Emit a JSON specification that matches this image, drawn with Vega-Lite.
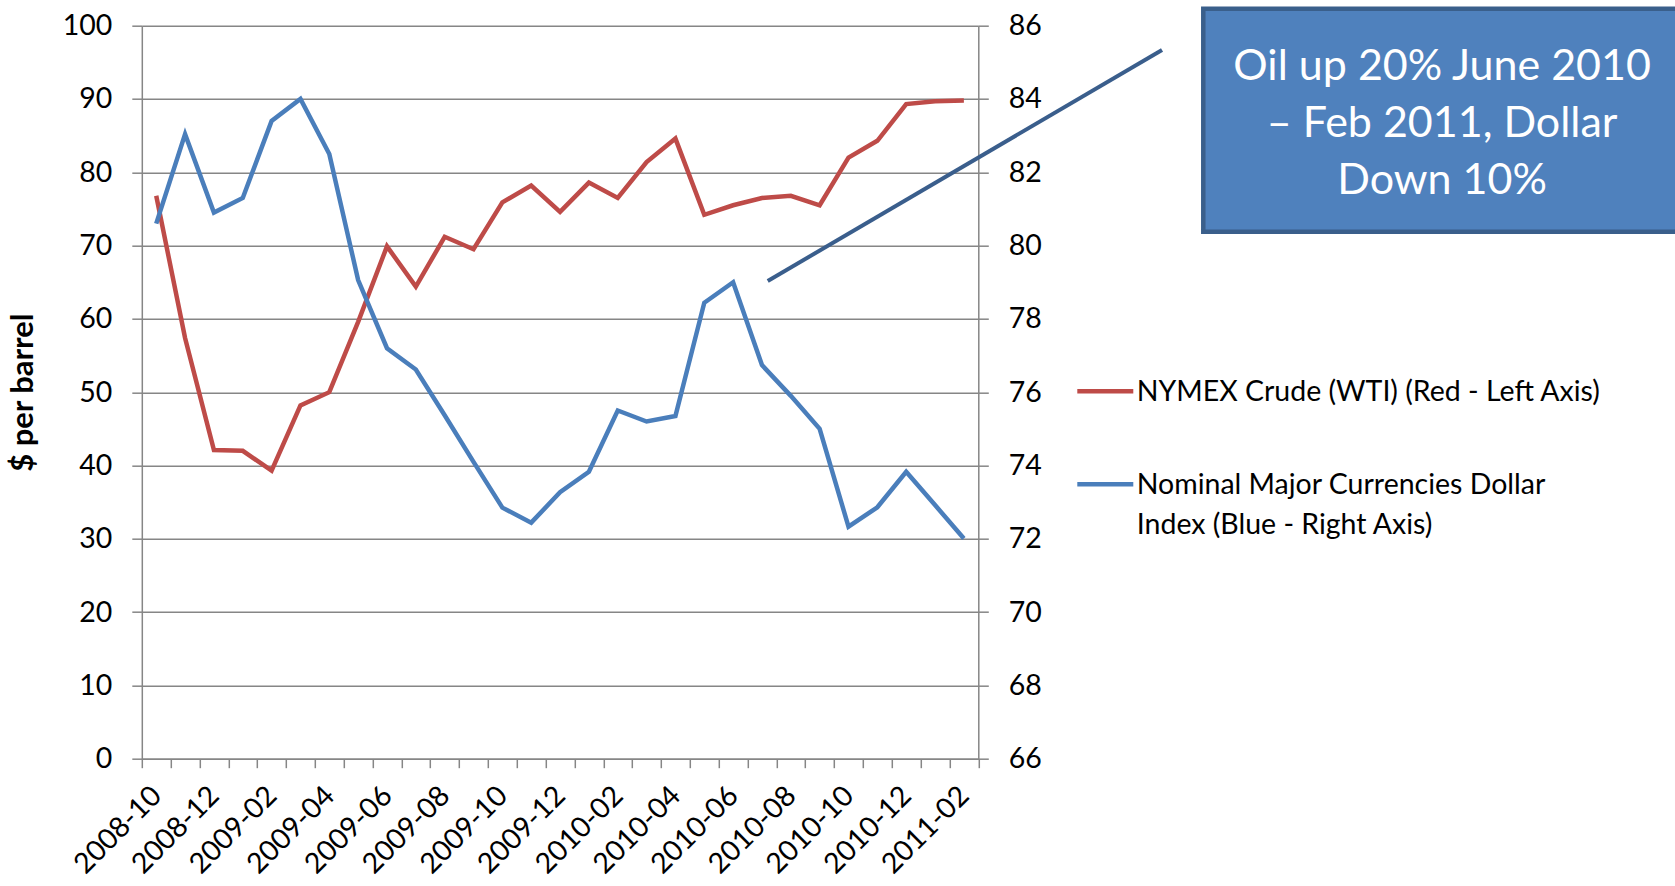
{
  "$schema": "https://vega.github.io/schema/vega-lite/v6.json",
  "autosize": {"type": "none"},
  "width": 836.5,
  "height": 733,
  "padding": {"left": 141.8, "top": 25.7, "right": 697, "bottom": 127},
  "background": "white",
  "datasets": {
    "prices": [
      {"month": "2008-10", "oil": 76.8, "dollar": 80.6},
      {"month": "2008-11", "oil": 57.4, "dollar": 83.04},
      {"month": "2008-12", "oil": 42.1, "dollar": 80.9},
      {"month": "2009-01", "oil": 42.0, "dollar": 81.3},
      {"month": "2009-02", "oil": 39.3, "dollar": 83.4},
      {"month": "2009-03", "oil": 48.2, "dollar": 84.0},
      {"month": "2009-04", "oil": 50.0, "dollar": 82.5},
      {"month": "2009-05", "oil": 59.6, "dollar": 79.06},
      {"month": "2009-06", "oil": 69.9, "dollar": 77.2},
      {"month": "2009-07", "oil": 64.4, "dollar": 76.62},
      {"month": "2009-08", "oil": 71.2, "dollar": 75.37},
      {"month": "2009-09", "oil": 69.5, "dollar": 74.1},
      {"month": "2009-10", "oil": 75.9, "dollar": 72.85},
      {"month": "2009-11", "oil": 78.2, "dollar": 72.44},
      {"month": "2009-12", "oil": 74.6, "dollar": 73.27},
      {"month": "2010-01", "oil": 78.6, "dollar": 73.83},
      {"month": "2010-02", "oil": 76.5, "dollar": 75.5},
      {"month": "2010-03", "oil": 81.4, "dollar": 75.2},
      {"month": "2010-04", "oil": 84.6, "dollar": 75.35},
      {"month": "2010-05", "oil": 74.2, "dollar": 78.44},
      {"month": "2010-06", "oil": 75.5, "dollar": 79.0},
      {"month": "2010-07", "oil": 76.5, "dollar": 76.74},
      {"month": "2010-08", "oil": 76.8, "dollar": 75.9},
      {"month": "2010-09", "oil": 75.5, "dollar": 75.0},
      {"month": "2010-10", "oil": 82.0, "dollar": 72.33},
      {"month": "2010-11", "oil": 84.3, "dollar": 72.86},
      {"month": "2010-12", "oil": 89.3, "dollar": 73.83},
      {"month": "2011-01", "oil": 89.7, "dollar": 72.92},
      {"month": "2011-02", "oil": 89.8, "dollar": 72.01}
    ],
    "callout": [
      {"x": 21.7, "y": 65.17, "x2": 35.37, "y2": 96.69}
    ],
    "note": [
      {"x": 36.8, "x2": 53.4, "y": 102.3, "y2": 71.9, "tx": 45.08, "ty": 92.59,
       "label": "Oil up 20% June 2010\n– Feb 2011, Dollar\nDown 10%"}
    ]
  },
  "layer": [
    {
      "data": {"name": "prices"},
      "mark": {"type": "line", "strokeWidth": 4.5},
      "encoding": {
        "x": {
          "field": "month", "type": "ordinal", "bandPosition": 0.5,
          "scale": {"type": "band", "paddingInner": 0, "paddingOuter": 0},
          "axis": {
            "title": null, "grid": false, "tickBand": "extent", "tickSize": 9,
            "labelAngle": -45, "labelAlign": "right", "labelBaseline": "middle",
            "labelPadding": 23, "labelOverlap": false, "labelFontSize": 28.5,
            "labelExpr": "toNumber(substring(datum.value, 5, 7)) % 2 == 0 ? datum.value : ''"
          }
        },
        "y": {
          "field": "oil", "type": "quantitative",
          "scale": {"domain": [0, 100], "nice": false, "zero": false},
          "axis": {
            "title": "$ per barrel", "values": [0, 10, 20, 30, 40, 50, 60, 70, 80, 90, 100],
            "grid": true, "tickSize": 10, "labelPadding": 20, "labelFlush": false,
            "titlePadding": 23
          }
        },
        "color": {
          "datum": "NYMEX Crude (WTI) (Red - Left Axis)", "type": "nominal",
          "legend": {
            "orient": "none", "legendX": 933, "legendY": 335,
            "title": null, "padding": 0,
            "symbolType": "stroke", "symbolSize": 3136, "symbolStrokeWidth": 4.5,
            "labelFont": "Lato", "labelFontSize": 28.5, "labelColor": "#000000",
            "labelLimit": 0, "labelOffset": 1, "rowPadding": 47,
            "labelBaseline": "alphabetic",
            "labelExpr": "indexof(datum.label, 'Nominal') == 0 ? ['Nominal Major Currencies Dollar', 'Index (Blue - Right Axis)'] : datum.label",
            "encode": {"labels": {"update": {"dy": {"value": 10}, "lineHeight": {"value": 39.5}}}}
          }
        }
      }
    },
    {
      "data": {"name": "prices"},
      "mark": {"type": "line", "strokeWidth": 4.5},
      "encoding": {
        "x": {
          "field": "month", "type": "ordinal", "bandPosition": 0.5,
          "scale": {"type": "band", "paddingInner": 0, "paddingOuter": 0},
          "axis": null
        },
        "y": {
          "field": "dollar", "type": "quantitative",
          "scale": {"domain": [66, 86], "nice": false, "zero": false},
          "axis": {
            "orient": "right", "title": null,
            "values": [66, 68, 70, 72, 74, 76, 78, 80, 82, 84, 86],
            "grid": false, "tickSize": 10, "labelPadding": 20, "labelFlush": false
          }
        },
        "color": {"datum": "Nominal Major Currencies Dollar Index (Blue - Right Axis)", "type": "nominal"}
      }
    },
    {
      "data": {"name": "callout"},
      "mark": {"type": "rule", "color": "#3A5E8C", "strokeWidth": 4},
      "encoding": {
        "x": {"field": "x", "type": "quantitative", "scale": {"domain": [0, 29], "nice": false, "zero": false}, "axis": null},
        "x2": {"field": "x2"},
        "y": {"field": "y", "type": "quantitative", "scale": {"domain": [0, 100], "nice": false, "zero": false}, "axis": null},
        "y2": {"field": "y2"}
      }
    },
    {
      "data": {"name": "note"},
      "mark": {"type": "rect", "fill": "#4F81BD", "stroke": "#3A5F8B", "strokeWidth": 4.5},
      "encoding": {
        "x": {"field": "x", "type": "quantitative", "scale": {"domain": [0, 29], "nice": false, "zero": false}, "axis": null},
        "x2": {"field": "x2"},
        "y": {"field": "y", "type": "quantitative", "scale": {"domain": [0, 100], "nice": false, "zero": false}, "axis": null},
        "y2": {"field": "y2"}
      }
    },
    {
      "data": {"name": "note"},
      "mark": {"type": "text", "font": "Lato", "fontSize": 43, "color": "white",
               "align": "center", "baseline": "alphabetic", "lineBreak": "\n", "lineHeight": 57},
      "encoding": {
        "x": {"field": "tx", "type": "quantitative", "scale": {"domain": [0, 29], "nice": false, "zero": false}, "axis": null},
        "y": {"field": "ty", "type": "quantitative", "scale": {"domain": [0, 100], "nice": false, "zero": false}, "axis": null},
        "text": {"field": "label"}
      }
    }
  ],
  "resolve": {"scale": {"x": "independent", "y": "independent", "color": "shared"}},
  "encoding": {},
  "config": {
    "view": {"stroke": null},
    "font": "Lato",
    "axis": {
      "labelFont": "Lato", "labelFontSize": 28.5, "labelColor": "#000000",
      "titleFont": "Lato", "titleFontSize": 31, "titleFontWeight": "bold", "titleColor": "#000000",
      "domainColor": "#868686", "domainWidth": 1.5,
      "tickColor": "#868686", "tickWidth": 1.5,
      "gridColor": "#868686", "gridWidth": 1.5, "gridOpacity": 1
    },
    "range": {"category": ["#BE4B48", "#4A7EBB"]}
  }
}
